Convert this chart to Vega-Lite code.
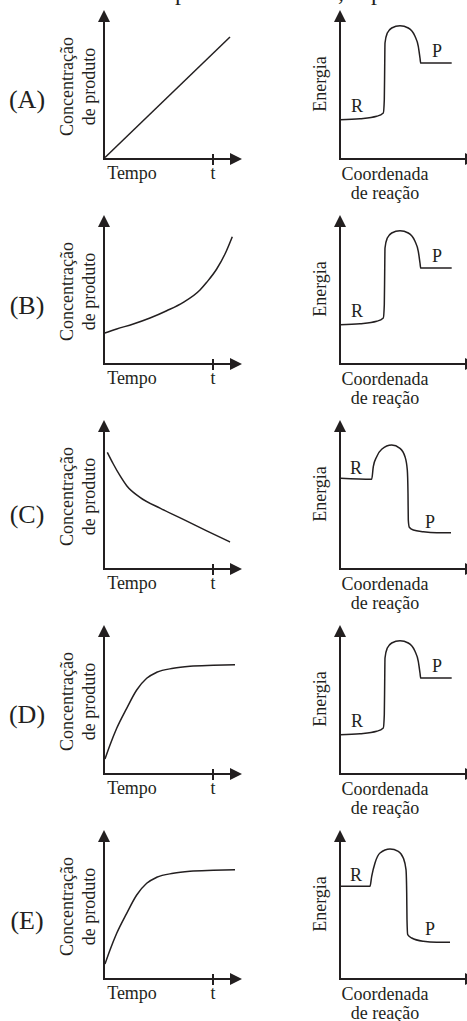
{
  "$schema": "https://vega.github.io/schema/vega-lite/v6.json",
  "padding": 0,
  "background": "white",
  "spacing": 0,
  "config": {"view": {"stroke": null}},
  "datasets": {
    "left": [
      {"r":"A","k":"axis","x":0,"y":0,"x2":0,"y2":143},
      {"r":"A","k":"axis","x":0,"y":0,"x2":132,"y2":0},
      {"r":"A","k":"axis","x":109,"y":-5,"x2":109,"y2":4},
      {"r":"A","k":"up","x":0,"y":143},
      {"r":"A","k":"right","x":132,"y":0},
      {"r":"A","k":"letter","x":-77,"y":59,"t":"(A)"},
      {"r":"A","k":"vtitle","x":-36,"y":72.5,"t":"Concentração"},
      {"r":"A","k":"vtitle","x":-14,"y":72.5,"t":"de produto"},
      {"r":"A","k":"label","x":28,"y":-14.5,"t":"Tempo"},
      {"r":"A","k":"label","x":109,"y":-14.5,"t":"t"},
      {"r":"A","k":"frag","x":77,"y":159.5,"t":"p"},
      {"r":"A","k":"curve","x":1,"y":1.5},
      {"r":"A","k":"curve","x":126,"y":122},

      {"r":"B","k":"axis","x":0,"y":0,"x2":0,"y2":143},
      {"r":"B","k":"axis","x":0,"y":0,"x2":132,"y2":0},
      {"r":"B","k":"axis","x":109,"y":-5,"x2":109,"y2":4},
      {"r":"B","k":"up","x":0,"y":143},
      {"r":"B","k":"right","x":132,"y":0},
      {"r":"B","k":"letter","x":-77,"y":58,"t":"(B)"},
      {"r":"B","k":"vtitle","x":-36,"y":72.5,"t":"Concentração"},
      {"r":"B","k":"vtitle","x":-14,"y":72.5,"t":"de produto"},
      {"r":"B","k":"label","x":28,"y":-14.5,"t":"Tempo"},
      {"r":"B","k":"label","x":109,"y":-14.5,"t":"t"},
      {"r":"B","k":"curve","x":0,"y":30.7},
      {"r":"B","k":"curve","x":12.7,"y":35},
      {"r":"B","k":"curve","x":29.3,"y":40},
      {"r":"B","k":"curve","x":46,"y":46},
      {"r":"B","k":"curve","x":62.7,"y":53.3},
      {"r":"B","k":"curve","x":79.3,"y":61.7},
      {"r":"B","k":"curve","x":96,"y":74},
      {"r":"B","k":"curve","x":102.7,"y":81.7},
      {"r":"B","k":"curve","x":112.7,"y":95},
      {"r":"B","k":"curve","x":121,"y":110},
      {"r":"B","k":"curve","x":128.3,"y":127.3},

      {"r":"C","k":"axis","x":0,"y":0,"x2":0,"y2":143},
      {"r":"C","k":"axis","x":0,"y":0,"x2":132,"y2":0},
      {"r":"C","k":"axis","x":109,"y":-5,"x2":109,"y2":4},
      {"r":"C","k":"up","x":0,"y":143},
      {"r":"C","k":"right","x":132,"y":0},
      {"r":"C","k":"letter","x":-77,"y":54,"t":"(C)"},
      {"r":"C","k":"vtitle","x":-36,"y":72.5,"t":"Concentração"},
      {"r":"C","k":"vtitle","x":-14,"y":72.5,"t":"de produto"},
      {"r":"C","k":"label","x":28,"y":-14.5,"t":"Tempo"},
      {"r":"C","k":"label","x":109,"y":-14.5,"t":"t"},
      {"r":"C","k":"curve","x":3.3,"y":116.7},
      {"r":"C","k":"curve","x":9.3,"y":105},
      {"r":"C","k":"curve","x":16,"y":93.3},
      {"r":"C","k":"curve","x":22.7,"y":83.3},
      {"r":"C","k":"curve","x":36,"y":71.7},
      {"r":"C","k":"curve","x":56,"y":60.8},
      {"r":"C","k":"curve","x":79.3,"y":49.6},
      {"r":"C","k":"curve","x":102.7,"y":38.2},
      {"r":"C","k":"curve","x":126,"y":27},

      {"r":"D","k":"axis","x":0,"y":0,"x2":0,"y2":143},
      {"r":"D","k":"axis","x":0,"y":0,"x2":132,"y2":0},
      {"r":"D","k":"axis","x":109,"y":-5,"x2":109,"y2":4},
      {"r":"D","k":"up","x":0,"y":143},
      {"r":"D","k":"right","x":132,"y":0},
      {"r":"D","k":"letter","x":-77,"y":59,"t":"(D)"},
      {"r":"D","k":"vtitle","x":-36,"y":72.5,"t":"Concentração"},
      {"r":"D","k":"vtitle","x":-14,"y":72.5,"t":"de produto"},
      {"r":"D","k":"label","x":28,"y":-14.5,"t":"Tempo"},
      {"r":"D","k":"label","x":109,"y":-14.5,"t":"t"},
      {"r":"D","k":"curve","x":1,"y":15},
      {"r":"D","k":"curve","x":6,"y":29},
      {"r":"D","k":"curve","x":12.7,"y":45.7},
      {"r":"D","k":"curve","x":22.7,"y":65.7},
      {"r":"D","k":"curve","x":32.7,"y":84},
      {"r":"D","k":"curve","x":42.7,"y":95.7},
      {"r":"D","k":"curve","x":52.7,"y":101.7},
      {"r":"D","k":"curve","x":69.3,"y":105.7},
      {"r":"D","k":"curve","x":86,"y":107.7},
      {"r":"D","k":"curve","x":109.3,"y":108.7},
      {"r":"D","k":"curve","x":131,"y":109.3},

      {"r":"E","k":"axis","x":0,"y":0,"x2":0,"y2":143},
      {"r":"E","k":"axis","x":0,"y":0,"x2":132,"y2":0},
      {"r":"E","k":"axis","x":109,"y":-5,"x2":109,"y2":4},
      {"r":"E","k":"up","x":0,"y":143},
      {"r":"E","k":"right","x":132,"y":0},
      {"r":"E","k":"letter","x":-77,"y":58,"t":"(E)"},
      {"r":"E","k":"vtitle","x":-36,"y":72.5,"t":"Concentração"},
      {"r":"E","k":"vtitle","x":-14,"y":72.5,"t":"de produto"},
      {"r":"E","k":"label","x":28,"y":-14.5,"t":"Tempo"},
      {"r":"E","k":"label","x":109,"y":-14.5,"t":"t"},
      {"r":"E","k":"curve","x":1,"y":15},
      {"r":"E","k":"curve","x":6,"y":29},
      {"r":"E","k":"curve","x":12.7,"y":45.7},
      {"r":"E","k":"curve","x":22.7,"y":65.7},
      {"r":"E","k":"curve","x":32.7,"y":84},
      {"r":"E","k":"curve","x":42.7,"y":95.7},
      {"r":"E","k":"curve","x":52.7,"y":101.7},
      {"r":"E","k":"curve","x":69.3,"y":105.7},
      {"r":"E","k":"curve","x":86,"y":107.7},
      {"r":"E","k":"curve","x":109.3,"y":108.7},
      {"r":"E","k":"curve","x":131,"y":109.3}
    ],
    "right": [
      {"r":"A","k":"axis","x":0,"y":0,"x2":0,"y2":143},
      {"r":"A","k":"axis","x":0,"y":0,"x2":127,"y2":0},
      {"r":"A","k":"up","x":0,"y":143},
      {"r":"A","k":"right","x":131,"y":0},
      {"r":"A","k":"vtitle","x":-19,"y":75,"t":"Energia"},
      {"r":"A","k":"label","x":45,"y":-15.5,"t":"Coordenada"},
      {"r":"A","k":"label","x":45,"y":-34.5,"t":"de reação"},
      {"r":"A","k":"label","x":17,"y":52.5,"t":"R"},
      {"r":"A","k":"label","x":97,"y":107.5,"t":"P"},
      {"r":"A","k":"frag","x":1,"y":159.5,"t":","},
      {"r":"A","k":"frag","x":37,"y":159.5,"t":"p"},
      {"r":"A","k":"curve","x":0,"y":39.3},
      {"r":"A","k":"curve","x":20,"y":40.3},
      {"r":"A","k":"curve","x":36.7,"y":42.7},
      {"r":"A","k":"curve","x":43.3,"y":46},
      {"r":"A","k":"curve","x":44.3,"y":59.3},
      {"r":"A","k":"curve","x":44.7,"y":92.7},
      {"r":"A","k":"curve","x":45,"y":116},
      {"r":"A","k":"curve","x":47.3,"y":126},
      {"r":"A","k":"curve","x":51.7,"y":131},
      {"r":"A","k":"curve","x":60,"y":133.3},
      {"r":"A","k":"curve","x":68.3,"y":131},
      {"r":"A","k":"curve","x":75,"y":122.7},
      {"r":"A","k":"curve","x":78.3,"y":112.7},
      {"r":"A","k":"curve","x":80,"y":101},
      {"r":"A","k":"curve","x":80.7,"y":96},
      {"r":"A","k":"curve","x":111.7,"y":96},

      {"r":"B","k":"axis","x":0,"y":0,"x2":0,"y2":143},
      {"r":"B","k":"axis","x":0,"y":0,"x2":127,"y2":0},
      {"r":"B","k":"up","x":0,"y":143},
      {"r":"B","k":"right","x":131,"y":0},
      {"r":"B","k":"vtitle","x":-19,"y":75,"t":"Energia"},
      {"r":"B","k":"label","x":45,"y":-15.5,"t":"Coordenada"},
      {"r":"B","k":"label","x":45,"y":-34.5,"t":"de reação"},
      {"r":"B","k":"label","x":17,"y":52.5,"t":"R"},
      {"r":"B","k":"label","x":97,"y":107.5,"t":"P"},
      {"r":"B","k":"curve","x":0,"y":39.3},
      {"r":"B","k":"curve","x":20,"y":40.3},
      {"r":"B","k":"curve","x":36.7,"y":42.7},
      {"r":"B","k":"curve","x":43.3,"y":46},
      {"r":"B","k":"curve","x":44.3,"y":59.3},
      {"r":"B","k":"curve","x":44.7,"y":92.7},
      {"r":"B","k":"curve","x":45,"y":116},
      {"r":"B","k":"curve","x":47.3,"y":126},
      {"r":"B","k":"curve","x":51.7,"y":131},
      {"r":"B","k":"curve","x":60,"y":133.3},
      {"r":"B","k":"curve","x":68.3,"y":131},
      {"r":"B","k":"curve","x":75,"y":122.7},
      {"r":"B","k":"curve","x":78.3,"y":112.7},
      {"r":"B","k":"curve","x":80,"y":101},
      {"r":"B","k":"curve","x":80.7,"y":96},
      {"r":"B","k":"curve","x":111.7,"y":96},

      {"r":"C","k":"axis","x":0,"y":0,"x2":0,"y2":143},
      {"r":"C","k":"axis","x":0,"y":0,"x2":127,"y2":0},
      {"r":"C","k":"up","x":0,"y":143},
      {"r":"C","k":"right","x":131,"y":0},
      {"r":"C","k":"vtitle","x":-19,"y":75,"t":"Energia"},
      {"r":"C","k":"label","x":45,"y":-15.5,"t":"Coordenada"},
      {"r":"C","k":"label","x":45,"y":-34.5,"t":"de reação"},
      {"r":"C","k":"label","x":16,"y":99.7,"t":"R"},
      {"r":"C","k":"label","x":90,"y":45.7,"t":"P"},
      {"r":"C","k":"curve","x":0.7,"y":90.7},
      {"r":"C","k":"curve","x":31.7,"y":89.7},
      {"r":"C","k":"curve","x":33.3,"y":102.3},
      {"r":"C","k":"curve","x":36.7,"y":112.3},
      {"r":"C","k":"curve","x":41.7,"y":119.7},
      {"r":"C","k":"curve","x":51.7,"y":124},
      {"r":"C","k":"curve","x":60,"y":120.7},
      {"r":"C","k":"curve","x":65,"y":112.3},
      {"r":"C","k":"curve","x":67.3,"y":99},
      {"r":"C","k":"curve","x":68,"y":75.7},
      {"r":"C","k":"curve","x":68.3,"y":49},
      {"r":"C","k":"curve","x":69.3,"y":41.7},
      {"r":"C","k":"curve","x":73.3,"y":39},
      {"r":"C","k":"curve","x":83.3,"y":37.3},
      {"r":"C","k":"curve","x":96.7,"y":36.3},
      {"r":"C","k":"curve","x":111,"y":36.3},

      {"r":"D","k":"axis","x":0,"y":0,"x2":0,"y2":143},
      {"r":"D","k":"axis","x":0,"y":0,"x2":127,"y2":0},
      {"r":"D","k":"up","x":0,"y":143},
      {"r":"D","k":"right","x":131,"y":0},
      {"r":"D","k":"vtitle","x":-19,"y":75,"t":"Energia"},
      {"r":"D","k":"label","x":45,"y":-15.5,"t":"Coordenada"},
      {"r":"D","k":"label","x":45,"y":-34.5,"t":"de reação"},
      {"r":"D","k":"label","x":17,"y":52.5,"t":"R"},
      {"r":"D","k":"label","x":97,"y":107.5,"t":"P"},
      {"r":"D","k":"curve","x":0,"y":39.3},
      {"r":"D","k":"curve","x":20,"y":40.3},
      {"r":"D","k":"curve","x":36.7,"y":42.7},
      {"r":"D","k":"curve","x":43.3,"y":46},
      {"r":"D","k":"curve","x":44.3,"y":59.3},
      {"r":"D","k":"curve","x":44.7,"y":92.7},
      {"r":"D","k":"curve","x":45,"y":116},
      {"r":"D","k":"curve","x":47.3,"y":126},
      {"r":"D","k":"curve","x":51.7,"y":131},
      {"r":"D","k":"curve","x":60,"y":133.3},
      {"r":"D","k":"curve","x":68.3,"y":131},
      {"r":"D","k":"curve","x":75,"y":122.7},
      {"r":"D","k":"curve","x":78.3,"y":112.7},
      {"r":"D","k":"curve","x":80,"y":101},
      {"r":"D","k":"curve","x":80.7,"y":96},
      {"r":"D","k":"curve","x":111.7,"y":96},

      {"r":"E","k":"axis","x":0,"y":0,"x2":0,"y2":143},
      {"r":"E","k":"axis","x":0,"y":0,"x2":127,"y2":0},
      {"r":"E","k":"up","x":0,"y":143},
      {"r":"E","k":"right","x":131,"y":0},
      {"r":"E","k":"vtitle","x":-19,"y":75,"t":"Energia"},
      {"r":"E","k":"label","x":45,"y":-15.5,"t":"Coordenada"},
      {"r":"E","k":"label","x":45,"y":-34.5,"t":"de reação"},
      {"r":"E","k":"label","x":16,"y":102.7,"t":"R"},
      {"r":"E","k":"label","x":90,"y":49.3,"t":"P"},
      {"r":"E","k":"curve","x":0.7,"y":92.7},
      {"r":"E","k":"curve","x":30,"y":92.7},
      {"r":"E","k":"curve","x":31.7,"y":102.7},
      {"r":"E","k":"curve","x":35,"y":116},
      {"r":"E","k":"curve","x":40,"y":126},
      {"r":"E","k":"curve","x":50,"y":130},
      {"r":"E","k":"curve","x":58.3,"y":127.7},
      {"r":"E","k":"curve","x":63.3,"y":121},
      {"r":"E","k":"curve","x":66,"y":109.3},
      {"r":"E","k":"curve","x":66.7,"y":86},
      {"r":"E","k":"curve","x":67,"y":59.3},
      {"r":"E","k":"curve","x":67.7,"y":44.3},
      {"r":"E","k":"curve","x":71.7,"y":41},
      {"r":"E","k":"curve","x":83.3,"y":37.7},
      {"r":"E","k":"curve","x":96.7,"y":36.7},
      {"r":"E","k":"curve","x":110,"y":36.7}
    ]
  },
  "hconcat": [
    {
      "data": {"name": "left"},
      "spacing": 0,
      "facet": {"row": {"field": "r", "type": "nominal", "header": null, "title": null}},
      "spec": {
        "width": 250,
        "height": 205,
        "encoding": {
          "x": {"field": "x", "type": "quantitative", "scale": {"domain": [-104, 146], "nice": false, "zero": false}, "axis": null},
          "y": {"field": "y", "type": "quantitative", "scale": {"domain": [-46, 159], "nice": false, "zero": false}, "axis": null}
        },
        "layer": [
          {"transform": [{"filter": "datum.k == 'axis'"}],
           "mark": {"type": "rule", "color": "#231f20", "strokeWidth": 2, "strokeCap": "square"},
           "encoding": {"x2": {"field": "x2"}, "y2": {"field": "y2"}}},
          {"transform": [{"filter": "datum.k == 'curve'"}],
           "mark": {"type": "line", "color": "#231f20", "strokeWidth": 1.5, "interpolate": "monotone"}},
          {"transform": [{"filter": "datum.k == 'up'"}],
           "mark": {"type": "point", "shape": "M-1,1L0,-1L1,1Z", "filled": true, "color": "#231f20", "opacity": 1, "size": 144}},
          {"transform": [{"filter": "datum.k == 'right'"}],
           "mark": {"type": "point", "shape": "M-1,-1L1,0L-1,1Z", "filled": true, "color": "#231f20", "opacity": 1, "size": 144}},
          {"transform": [{"filter": "datum.k == 'letter'"}],
           "mark": {"type": "text", "font": "Liberation Serif", "fontSize": 26, "color": "#231f20", "align": "center", "baseline": "middle"},
           "encoding": {"text": {"field": "t"}}},
          {"transform": [{"filter": "datum.k == 'vtitle'"}],
           "mark": {"type": "text", "font": "Liberation Serif", "fontSize": 18, "color": "#231f20", "align": "center", "baseline": "middle", "angle": 270},
           "encoding": {"text": {"field": "t"}}},
          {"transform": [{"filter": "datum.k == 'label'"}],
           "mark": {"type": "text", "font": "Liberation Serif", "fontSize": 18, "color": "#231f20", "align": "center", "baseline": "middle"},
           "encoding": {"text": {"field": "t"}}},
          {"transform": [{"filter": "datum.k == 'frag'"}],
           "mark": {"type": "text", "font": "Liberation Serif", "fontSize": 24, "color": "#231f20", "align": "center", "baseline": "alphabetic", "clip": true},
           "encoding": {"text": {"field": "t"}}}
        ]
      }
    },
    {
      "data": {"name": "right"},
      "spacing": 0,
      "facet": {"row": {"field": "r", "type": "nominal", "header": null, "title": null}},
      "spec": {
        "width": 217,
        "height": 205,
        "encoding": {
          "x": {"field": "x", "type": "quantitative", "scale": {"domain": [-90, 127], "nice": false, "zero": false}, "axis": null},
          "y": {"field": "y", "type": "quantitative", "scale": {"domain": [-46, 159], "nice": false, "zero": false}, "axis": null}
        },
        "layer": [
          {"transform": [{"filter": "datum.k == 'axis'"}],
           "mark": {"type": "rule", "color": "#231f20", "strokeWidth": 2, "strokeCap": "square"},
           "encoding": {"x2": {"field": "x2"}, "y2": {"field": "y2"}}},
          {"transform": [{"filter": "datum.k == 'curve'"}],
           "mark": {"type": "line", "color": "#231f20", "strokeWidth": 1.5, "interpolate": "monotone"}},
          {"transform": [{"filter": "datum.k == 'up'"}],
           "mark": {"type": "point", "shape": "M-1,1L0,-1L1,1Z", "filled": true, "color": "#231f20", "opacity": 1, "size": 144}},
          {"transform": [{"filter": "datum.k == 'right'"}],
           "mark": {"type": "point", "shape": "M-1,-1L1,0L-1,1Z", "filled": true, "color": "#231f20", "opacity": 1, "size": 144, "clip": true}},
          {"transform": [{"filter": "datum.k == 'vtitle'"}],
           "mark": {"type": "text", "font": "Liberation Serif", "fontSize": 18, "color": "#231f20", "align": "center", "baseline": "middle", "angle": 270},
           "encoding": {"text": {"field": "t"}}},
          {"transform": [{"filter": "datum.k == 'label'"}],
           "mark": {"type": "text", "font": "Liberation Serif", "fontSize": 18, "color": "#231f20", "align": "center", "baseline": "middle"},
           "encoding": {"text": {"field": "t"}}},
          {"transform": [{"filter": "datum.k == 'frag'"}],
           "mark": {"type": "text", "font": "Liberation Serif", "fontSize": 24, "color": "#231f20", "align": "center", "baseline": "alphabetic", "clip": true},
           "encoding": {"text": {"field": "t"}}}
        ]
      }
    }
  ]
}
